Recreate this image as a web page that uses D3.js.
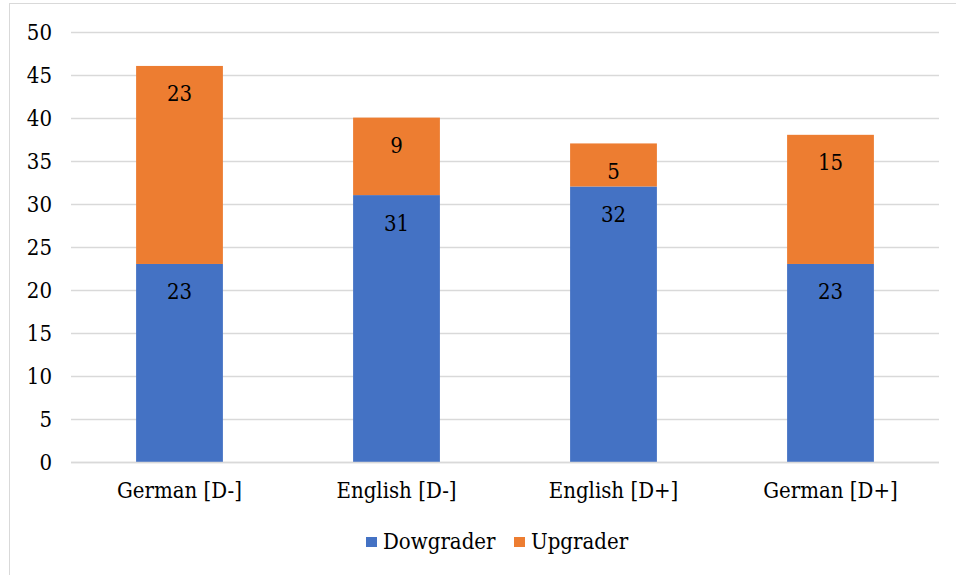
<!DOCTYPE html>
<html>
<head>
<meta charset="utf-8">
<script src="https://cdn.jsdelivr.net/npm/d3@7"></script>
<style>
  html, body { margin: 0; padding: 0; background: #fff; }
  svg { display: block; }
</style>
</head>
<body>
<svg id="chart" width="956" height="575"></svg>
<script>
// Group labels along the x axis
const categories = ["German [D-]", "English [D-]", "English [D+]", "German [D+]"];
// Stacked series, bottom to top
const seriesNames = ["Dowgrader", "Upgrader"];
const dowgrader = [23, 31, 32, 23];
const upgrader = [23, 9, 5, 15];
const seriesColors = ["#4472C4", "#ED7D31"];
// Y axis ticks
const yTicks = [0, 5, 10, 15, 20, 25, 30, 35, 40, 45, 50];

const FONT = "'DejaVu Serif Condensed', 'DejaVu Serif', serif";
const FS = 22;

const svg = d3.select("#chart");
const W = 956, H = 575;

// Chart frame
svg.append("rect")
  .attr("x", 9.5).attr("y", 3.5)
  .attr("width", W + 10).attr("height", H + 10)
  .attr("fill", "#fff").attr("stroke", "#d9d9d9").attr("stroke-width", 1);

const plot = { left: 71, right: 939, top: 31.5, bottom: 462 };

const x = d3.scaleBand()
  .domain(categories)
  .range([plot.left, plot.right])
  .paddingInner(0.6)
  .paddingOuter(0.3);

const y = d3.scaleLinear()
  .domain([0, 50])
  .range([plot.bottom, plot.top]);

// Gridlines
svg.append("g")
  .selectAll("line")
  .data(yTicks)
  .join("line")
  .attr("x1", plot.left).attr("x2", plot.right)
  .attr("y1", d => Math.round(y(d)) + 0.5)
  .attr("y2", d => Math.round(y(d)) + 0.5)
  .attr("stroke", "#d9d9d9").attr("stroke-width", 1.3);

// Y axis labels
const yAxis = d3.axisLeft(y).tickValues(yTicks).tickSize(0).tickPadding(0);
const gy = svg.append("g").attr("transform", `translate(52,0)`).call(yAxis);
gy.select(".domain").remove();
gy.attr("font-family", FONT).attr("font-size", FS).attr("font-stretch", "condensed");
gy.selectAll("text").attr("fill", "#000").attr("dy", "0.36em");

// Stack the series
const rows = categories.map((c, i) => ({ cat: c, Dowgrader: dowgrader[i], Upgrader: upgrader[i] }));
const stacked = d3.stack().keys(seriesNames)(rows);

const layers = svg.append("g")
  .selectAll("g")
  .data(stacked)
  .join("g")
  .attr("fill", (d, i) => seriesColors[i]);

layers.selectAll("rect")
  .data(d => d)
  .join("rect")
  .attr("x", d => x(d.data.cat))
  .attr("width", x.bandwidth())
  .attr("y", d => y(d[1]))
  .attr("height", d => y(d[0]) - y(d[1]));

// Value labels near the top of each segment
layers.selectAll("text")
  .data(d => d)
  .join("text")
  .attr("x", d => x(d.data.cat) + x.bandwidth() / 2)
  .attr("y", d => y(d[1]) + 35.5)
  .attr("text-anchor", "middle")
  .attr("font-family", FONT)
  .attr("font-stretch", "condensed")
  .attr("font-size", FS)
  .attr("fill", "#000")
  .text(d => d[1] - d[0]);

// X axis line
svg.append("line")
  .attr("x1", plot.left).attr("x2", plot.right)
  .attr("y1", Math.round(y(0)) + 0.5).attr("y2", Math.round(y(0)) + 0.5)
  .attr("stroke", "#d9d9d9").attr("stroke-width", 1.3);

// Category labels
const xAxis = d3.axisBottom(x).tickSize(0).tickPadding(0);
const gx = svg.append("g").attr("transform", `translate(0,498)`).call(xAxis);
gx.select(".domain").remove();
gx.attr("font-family", FONT).attr("font-size", FS).attr("font-stretch", "condensed");
gx.selectAll("text").attr("fill", "#000").attr("y", 0).attr("dy", 0);

// Legend
const legendItems = [
  { name: seriesNames[0], color: seriesColors[0], x: 366 },
  { name: seriesNames[1], color: seriesColors[1], x: 514 }
];
const lg = svg.append("g").selectAll("g").data(legendItems).join("g")
  .attr("transform", d => `translate(${d.x},549)`);
lg.append("rect")
  .attr("x", 0).attr("y", -12).attr("width", 11).attr("height", 10)
  .attr("fill", d => d.color);
lg.append("text")
  .attr("x", 17)
  .attr("font-family", FONT)
  .attr("font-stretch", "condensed")
  .attr("font-size", FS)
  .attr("fill", "#000")
  .text(d => d.name);
</script>
</body>
</html>
